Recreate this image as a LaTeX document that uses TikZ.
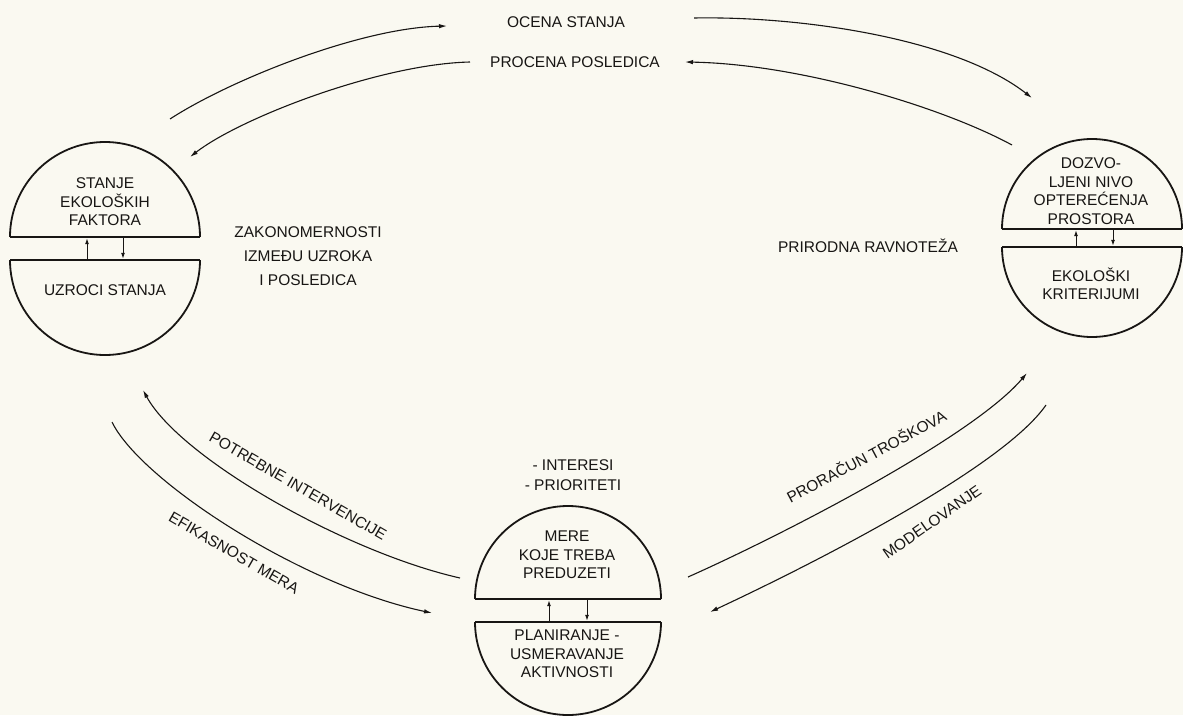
\documentclass[tikz,border=0pt]{standalone}
\usepackage{fontspec}
\setmainfont{Liberation Sans}
\usetikzlibrary{arrows.meta}
\definecolor{paper}{RGB}{250,249,241}
\definecolor{ink}{RGB}{24,22,20}
\begin{document}
\begin{tikzpicture}[x=1pt,y=-1pt,
  txt/.style={inner sep=0pt, align=center, text=ink, font=\fontsize{15.5}{18.5}\selectfont},
  conn/.style={draw=ink, line width=1.1pt, -{Latex[length=8pt,width=4.5pt]}},
  rim/.style={draw=ink, line width=1.8pt},
  chord/.style={draw=ink, line width=2.3pt},
  smallarrow/.style={draw=ink, line width=1pt, -{Latex[length=6pt,width=4pt]}},
]
\fill[paper] (0,0) rectangle (1183,715);
\useasboundingbox (0,0) rectangle (1183,715);

% ---- left circle
\draw[rim] (10,237) arc[start angle=180,end angle=360,radius=95];
\draw[chord] (10,237) -- (200,237);
\draw[rim] (200,260) arc[start angle=0,end angle=180,radius=95];
\draw[chord] (10,260) -- (200,260);
% ---- right circle
\draw[rim] (1002,229) arc[start angle=180,end angle=360,radius=90];
\draw[chord] (1002,229) -- (1182,229);
\draw[rim] (1182,247) arc[start angle=0,end angle=180,radius=90];
\draw[chord] (1002,247) -- (1182,247);
% ---- bottom circle
\draw[rim] (475,599) arc[start angle=180,end angle=360,radius=93];
\draw[chord] (475,599) -- (661,599);
\draw[rim] (661,622) arc[start angle=0,end angle=180,radius=93];
\draw[chord] (475,622) -- (661,622);

% ---- texts
\node[txt] (stanje) at (105,202) {STANJE\\EKOLOŠKIH\\FAKTORA};
\node[txt] (uzroci) at (105,290) {UZROCI STANJA};
\node[txt] (dozvo) at (1091,191) {DOZVO-\\LJENI NIVO\\OPTEREĆENJA\\PROSTORA};
\node[txt] (ekol) at (1091,284) {EKOLOŠKI\\KRITERIJUMI};
\node[txt] (mere) at (567,555) {MERE\\KOJE TREBA\\PREDUZETI};
\node[txt] (plan) at (567,654) {PLANIRANJE -\\USMERAVANJE\\AKTIVNOSTI};
\node[txt, font=\fontsize{15.5}{20}\selectfont] (inter) at (573,475) {- INTERESI\\- PRIORITETI};
\node[txt, font=\fontsize{15.5}{24}\selectfont] (zakon) at (308,256) {ZAKONOMERNOSTI\\IZMEĐU UZROKA\\I POSLEDICA};
\node[txt] (prirodna) at (868,246) {PRIRODNA RAVNOTEŽA};
\node[txt] (ocena) at (566,22) {OCENA STANJA};
\node[txt] (procena) at (575,62) {PROCENA POSLEDICA};
\node[txt, rotate=-30] (potrebne) at (298,486) {POTREBNE INTERVENCIJE};
\node[txt, rotate=-30] (efik) at (234,553) {EFIKASNOST MERA};
\node[txt, rotate=28] (proracun) at (866,456) {PRORAČUN TROŠKOVA};
\node[txt, rotate=35] (model) at (932,522) {MODELOVANJE};

% ---- connector end points
\coordinate (ocL1) at (170,119);  \coordinate (ocL2) at (447,26);
\coordinate (ocR1) at (694,18);   \coordinate (ocR2) at (1032,98);
\coordinate (prR1) at (1012,145); \coordinate (prR2) at (685,62);
\coordinate (prL1) at (470,62);   \coordinate (prL2) at (190,157);
\coordinate (poB) at (460,578);   \coordinate (poL) at (143,390);
\coordinate (efL) at (112,422);   \coordinate (efB) at (432,613);
\coordinate (raB) at (688,577);   \coordinate (raR) at (1027,373);
\coordinate (moR) at (1046,405);  \coordinate (moB) at (710,612);

\draw[conn] (ocL1) .. controls (230,80) and (360,28) .. (ocL2);
\draw[conn] (ocR1) .. controls (800,16) and (955,38) .. (ocR2);
\draw[conn] (prR1) .. controls (942,107) and (800,64) .. (prR2);
\draw[conn] (prL1) .. controls (380,64) and (240,118) .. (prL2);
\draw[conn] (poB) .. controls (345,552) and (180,458) .. (poL);
\draw[conn] (efL) .. controls (140,480) and (300,585) .. (efB);
\draw[conn] (raB) .. controls (778,537) and (972,438) .. (raR);
\draw[conn] (moR) .. controls (1001,470) and (800,570) .. (moB);

% ---- small arrows between halves
\coordinate (lu1) at (87,259);   \coordinate (lu2) at (87,238.2);
\coordinate (ld1) at (123,238);  \coordinate (ld2) at (123,258.8);
\coordinate (ru1) at (1076,246); \coordinate (ru2) at (1076,230.2);
\coordinate (rd1) at (1113,230); \coordinate (rd2) at (1113,245.8);
\coordinate (bu1) at (549,621);  \coordinate (bu2) at (549,600.2);
\coordinate (bd1) at (587,600);  \coordinate (bd2) at (587,620.8);
\draw[smallarrow] (lu1) -- (lu2);
\draw[smallarrow] (ld1) -- (ld2);
\draw[smallarrow] (ru1) -- (ru2);
\draw[smallarrow] (rd1) -- (rd2);
\draw[smallarrow] (bu1) -- (bu2);
\draw[smallarrow] (bd1) -- (bd2);
\end{tikzpicture}
\end{document}
